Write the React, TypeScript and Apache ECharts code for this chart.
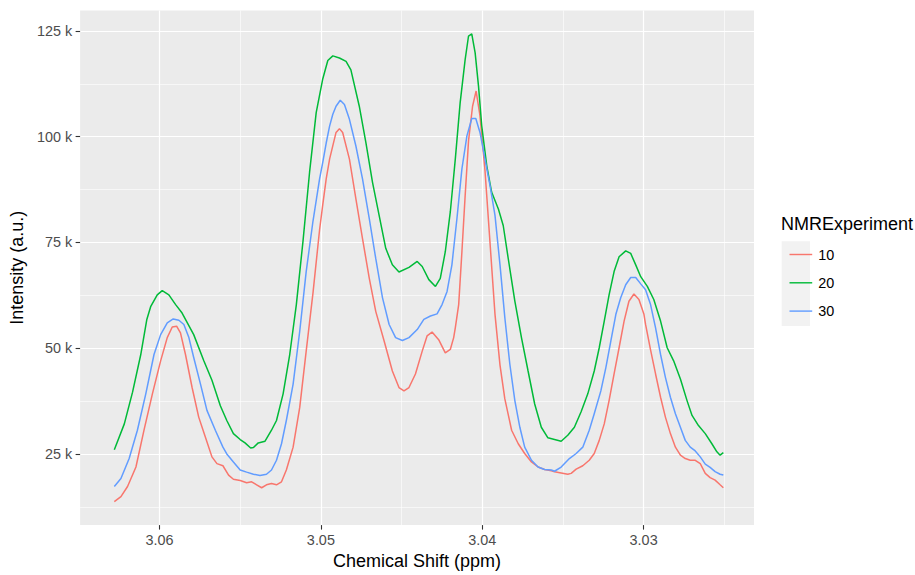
import React, { useEffect, useRef } from "react";
import * as echarts from "echarts";

// ---- Data ----
const experiments = ["10", "20", "30"];
const colors = ["#F8766D", "#00BA38", "#619CFF"];

const shift10 = [3.0628, 3.06239, 3.06198, 3.06146, 3.06095, 3.06044, 3.05993, 3.05952, 3.05921, 3.05894, 3.0587, 3.05839, 3.05798, 3.05757, 3.05716, 3.05675, 3.05644, 3.05607, 3.05572, 3.05542, 3.055, 3.0546, 3.05429, 3.05398, 3.05367, 3.05337, 3.05306, 3.05275, 3.05244, 3.05214, 3.05172, 3.05131, 3.05091, 3.05049, 3.05008, 3.04988, 3.04967, 3.04946, 3.04906, 3.04885, 3.04865, 3.04823, 3.04783, 3.04742, 3.047, 3.0466, 3.04608, 3.04557, 3.04516, 3.04485, 3.04454, 3.04414, 3.04372, 3.04342, 3.04311, 3.0427, 3.04229, 3.04198, 3.04177, 3.04167, 3.04146, 3.04126, 3.04106, 3.04085, 3.0406, 3.04038, 3.04014, 3.03983, 3.03952, 3.03921, 3.0389, 3.0386, 3.03818, 3.03777, 3.03737, 3.03695, 3.03654, 3.03614, 3.03572, 3.03552, 3.03511, 3.0347, 3.03449, 3.03418, 3.03377, 3.03337, 3.03306, 3.03275, 3.03244, 3.03214, 3.03183, 3.03152, 3.03121, 3.03091, 3.0306, 3.03029, 3.02998, 3.02988, 3.02957, 3.02926, 3.02895, 3.02865, 3.02834, 3.02803, 3.02772, 3.02742, 3.02711, 3.0268, 3.02649, 3.02618, 3.02588, 3.02557, 3.02526, 3.02506];
const intensity10 = [13.7, 14.9, 17.3, 21.9, 30.8, 39.2, 47.0, 52.5, 55.0, 55.2, 53.6, 48.5, 40.7, 33.7, 29.0, 24.3, 22.7, 22.2, 20.0, 19.0, 18.7, 18.2, 18.4, 17.7, 17.0, 17.7, 18.0, 17.7, 18.4, 21.2, 26.6, 36.0, 49.3, 63.0, 78.0, 84.0, 90.0, 94.7, 101.0, 101.9, 101.0, 94.7, 85.3, 75.9, 66.5, 58.7, 51.7, 44.6, 40.7, 39.9, 40.7, 43.9, 49.3, 52.9, 53.8, 52.0, 48.9, 49.7, 52.5, 54.8, 60.3, 72.8, 86.0, 99.0, 107.2, 110.8, 104.9, 92.0, 75.0, 58.0, 46.0, 38.0, 30.6, 27.4, 25.1, 23.1, 21.9, 21.3, 21.0, 20.8, 20.5, 20.2, 20.4, 21.4, 22.2, 23.5, 25.1, 28.2, 32.1, 37.6, 43.9, 50.1, 56.4, 61.1, 62.8, 61.5, 58.0, 55.6, 49.6, 43.9, 38.4, 33.7, 29.8, 26.6, 24.7, 23.9, 23.5, 23.5, 22.7, 20.4, 19.4, 18.8, 17.7, 17.0];

const shift20 = [3.0628, 3.06218, 3.06167, 3.06116, 3.06079, 3.06054, 3.06014, 3.05983, 3.05942, 3.059, 3.0586, 3.05788, 3.05726, 3.05675, 3.05623, 3.05583, 3.05542, 3.055, 3.0547, 3.05435, 3.05418, 3.05388, 3.05346, 3.05306, 3.05275, 3.05234, 3.05193, 3.05152, 3.05111, 3.0507, 3.05029, 3.04988, 3.04957, 3.04926, 3.04885, 3.04844, 3.04814, 3.04762, 3.04721, 3.0468, 3.04639, 3.04598, 3.04557, 3.04516, 3.04454, 3.04403, 3.04372, 3.04331, 3.0429, 3.0426, 3.04229, 3.04198, 3.04167, 3.04137, 3.04106, 3.04085, 3.04065, 3.04044, 3.04023, 3.04003, 3.03972, 3.03942, 3.039, 3.0387, 3.03839, 3.03798, 3.03757, 3.03716, 3.03675, 3.03634, 3.03593, 3.03552, 3.03511, 3.0347, 3.03429, 3.03388, 3.03346, 3.03306, 3.03275, 3.03244, 3.03214, 3.03183, 3.03152, 3.03111, 3.0308, 3.03049, 3.03018, 3.02977, 3.02937, 3.02895, 3.02854, 3.02814, 3.02772, 3.02731, 3.027, 3.0266, 3.02618, 3.02577, 3.02546, 3.02526, 3.02506];
const intensity20 = [26.0, 32.1, 39.6, 48.5, 56.7, 59.9, 62.6, 63.6, 62.6, 60.3, 58.3, 53.2, 47.1, 42.4, 36.4, 32.9, 29.8, 28.4, 27.6, 26.4, 26.5, 27.6, 28.0, 30.6, 32.9, 39.2, 48.5, 60.3, 75.2, 91.6, 105.7, 113.7, 118.0, 119.1, 118.6, 117.8, 115.8, 107.2, 98.6, 89.2, 81.4, 73.6, 69.7, 68.0, 69.1, 70.5, 69.3, 66.2, 64.6, 66.5, 72.8, 82.2, 94.7, 108.0, 118.2, 123.8, 124.3, 119.8, 111.9, 102.5, 93.1, 86.9, 82.9, 79.0, 71.2, 61.1, 52.5, 44.6, 36.8, 31.3, 28.8, 28.4, 28.0, 29.4, 31.3, 34.9, 39.2, 44.6, 50.1, 56.4, 62.6, 68.1, 71.6, 73.0, 72.4, 69.7, 66.9, 64.6, 61.5, 56.4, 50.1, 47.0, 42.7, 37.6, 34.1, 31.7, 29.8, 27.4, 25.5, 24.7, 25.3];

const shift30 = [3.0628, 3.06239, 3.06188, 3.06137, 3.06085, 3.06034, 3.05993, 3.05952, 3.05915, 3.0588, 3.05849, 3.05818, 3.05788, 3.05746, 3.05706, 3.05654, 3.05607, 3.05583, 3.05542, 3.055, 3.0546, 3.05418, 3.05377, 3.05337, 3.05306, 3.05275, 3.05244, 3.05214, 3.05172, 3.05131, 3.05091, 3.05049, 3.05008, 3.04988, 3.04967, 3.04946, 3.04926, 3.04906, 3.0488, 3.04854, 3.04823, 3.04783, 3.04742, 3.047, 3.0466, 3.04618, 3.04577, 3.04537, 3.04495, 3.04454, 3.04403, 3.04362, 3.04321, 3.0428, 3.04249, 3.04218, 3.04188, 3.04157, 3.04126, 3.04095, 3.04065, 3.0404, 3.04014, 3.03983, 3.03952, 3.03921, 3.0389, 3.0386, 3.03829, 3.03798, 3.03767, 3.03737, 3.03695, 3.03654, 3.03614, 3.03572, 3.03552, 3.03511, 3.0346, 3.03418, 3.03377, 3.03337, 3.03306, 3.03265, 3.03234, 3.03203, 3.03172, 3.03142, 3.03111, 3.0308, 3.03049, 3.03018, 3.02988, 3.02957, 3.02926, 3.02895, 3.02865, 3.02834, 3.02803, 3.02772, 3.02742, 3.02711, 3.0268, 3.02649, 3.02618, 3.02588, 3.02557, 3.02526, 3.02506];
const intensity30 = [17.3, 19.2, 23.9, 30.6, 39.2, 48.5, 53.2, 56.0, 56.9, 56.6, 55.6, 52.5, 47.8, 41.5, 35.3, 30.6, 26.6, 25.0, 23.1, 21.2, 20.7, 20.2, 19.9, 20.2, 21.2, 23.5, 27.4, 32.9, 41.5, 54.0, 68.1, 80.0, 90.0, 94.0, 98.5, 102.5, 105.3, 107.2, 108.6, 107.6, 104.1, 97.8, 90.0, 80.6, 71.2, 61.9, 55.6, 52.5, 51.8, 52.5, 54.4, 56.8, 57.6, 58.1, 60.3, 63.4, 69.7, 80.6, 92.4, 100.2, 104.3, 104.3, 101.0, 94.7, 88.5, 81.4, 69.7, 57.2, 46.2, 37.6, 31.3, 26.6, 23.5, 21.9, 21.3, 21.2, 20.9, 21.9, 23.9, 25.1, 26.6, 30.6, 34.5, 39.9, 45.4, 51.7, 58.0, 61.9, 65.0, 66.7, 66.7, 65.2, 63.8, 60.3, 54.8, 48.5, 43.1, 38.4, 34.5, 31.3, 28.2, 26.6, 25.7, 24.3, 22.6, 21.8, 20.8, 20.2, 20.0];

const xMajorTicks = [3.03, 3.04, 3.05, 3.06];
const xMinorTicks = [3.025, 3.035, 3.045, 3.055];
const yMajorTicks = [25, 50, 75, 100, 125];
const yMinorTicks = [12.5, 37.5, 62.5, 87.5, 112.5];

const X_MIN = 3.02316;
const X_MAX = 3.06492;
const Y_MIN = 8.17;
const Y_MAX = 129.83;

const FONT = "'Liberation Sans', Arial, Helvetica, sans-serif";

const zip = (xs: number[], ys: number[]) => xs.map((x, i) => [x, ys[i]]);

export default function App() {
  const ref = useRef<HTMLDivElement>(null);
  useEffect(() => {
    if (!ref.current) return;
    const chart = echarts.init(ref.current, null, { renderer: "svg" });
    const seriesData = [zip(shift10, intensity10), zip(shift20, intensity20), zip(shift30, intensity30)];
    const minorSplit = { show: true, lineStyle: { color: "#FFFFFF", width: 0.6 } };
    const majorSplit = { show: true, lineStyle: { color: "#FFFFFF", width: 1.2 } };
    chart.setOption({
      animation: false,
      grid: {
        left: 75.5,
        right: 161,
        top: 10.5,
        bottom: 45.5,
        show: true,
        backgroundColor: "#EBEBEB",
        borderWidth: 0,
      },
      title: {
        text: "NMRExperiment",
        left: 781,
        top: 215,
        padding: 0,
        textStyle: { fontSize: 18, fontWeight: "normal", color: "#000000", fontFamily: FONT },
      },
      graphic: [
        {
          type: "rect",
          shape: { x: 781.7, y: 241.2, width: 28.3, height: 84.9 },
          style: { fill: "#F2F2F2" },
          z: 1,
        },
      ],
      legend: {
        orient: "vertical",
        left: 784.5,
        top: 242.5,
        itemWidth: 22.7,
        itemHeight: 14,
        itemGap: 14.3,
        icon: "path://M0,0H16V1H0Z",
        data: experiments,
        z: 5,
        textStyle: { fontSize: 14.4, color: "#000000", fontFamily: FONT, lineHeight: 14, padding: [0, 0, 0, 1] },
      },
      xAxis: [
        {
          type: "value",
          inverse: true,
          min: X_MIN,
          max: X_MAX,
          minInterval: 0.005,
          maxInterval: 0.005,
          position: "bottom",
          axisLine: { show: false },
          axisTick: { show: false, customValues: xMinorTicks },
          axisLabel: { show: false },
          splitLine: minorSplit,
        },
        {
          type: "value",
          inverse: true,
          min: X_MIN,
          max: X_MAX,
          minInterval: 0.01,
          maxInterval: 0.01,
          position: "bottom",
          axisLine: { show: false },
          axisTick: { show: true, length: 4.5, customValues: xMajorTicks, lineStyle: { color: "#333333", width: 1.1 } },
          axisLabel: {
            show: true,
            customValues: xMajorTicks,
            margin: 8,
            color: "#4D4D4D",
            fontSize: 14.4,
            fontFamily: FONT,
            formatter: (v: number) => v.toFixed(2),
          },
          splitLine: majorSplit,
          name: "Chemical Shift (ppm)",
          nameLocation: "middle",
          nameGap: 24.5,
          nameTextStyle: { fontSize: 18, color: "#000000", fontFamily: FONT },
        },
      ],
      yAxis: [
        {
          type: "value",
          min: Y_MIN,
          max: Y_MAX,
          minInterval: 12.5,
          maxInterval: 12.5,
          position: "left",
          axisLine: { show: false },
          axisTick: { show: false, customValues: yMinorTicks },
          axisLabel: { show: false },
          splitLine: minorSplit,
        },
        {
          type: "value",
          min: Y_MIN,
          max: Y_MAX,
          minInterval: 25,
          maxInterval: 25,
          position: "left",
          axisLine: { show: false },
          axisTick: { show: true, length: 4.5, customValues: yMajorTicks, lineStyle: { color: "#333333", width: 1.1 } },
          axisLabel: {
            show: true,
            customValues: yMajorTicks,
            margin: 8,
            color: "#4D4D4D",
            fontSize: 14.4,
            fontFamily: FONT,
            formatter: (v: number) => `${v} k`,
          },
          splitLine: majorSplit,
          name: "Intensity (a.u.)",
          nameLocation: "middle",
          nameGap: 47,
          nameTextStyle: { fontSize: 18, color: "#000000", fontFamily: FONT },
        },
      ],
      series: experiments.map((name, i) => ({
        name,
        type: "line",
        xAxisIndex: 0,
        yAxisIndex: 0,
        data: seriesData[i],
        showSymbol: false,
        symbol: "none",
        smooth: false,
        color: colors[i],
        itemStyle: { color: colors[i] },
        lineStyle: { color: colors[i], width: 1.5 },
        z: 3,
      })),
    });
    return () => chart.dispose();
  }, []);
  return (
    <div
      ref={ref}
      style={{ position: "absolute", left: 0, top: 0, width: 915, height: 575, background: "#FFFFFF" }}
    />
  );
}
